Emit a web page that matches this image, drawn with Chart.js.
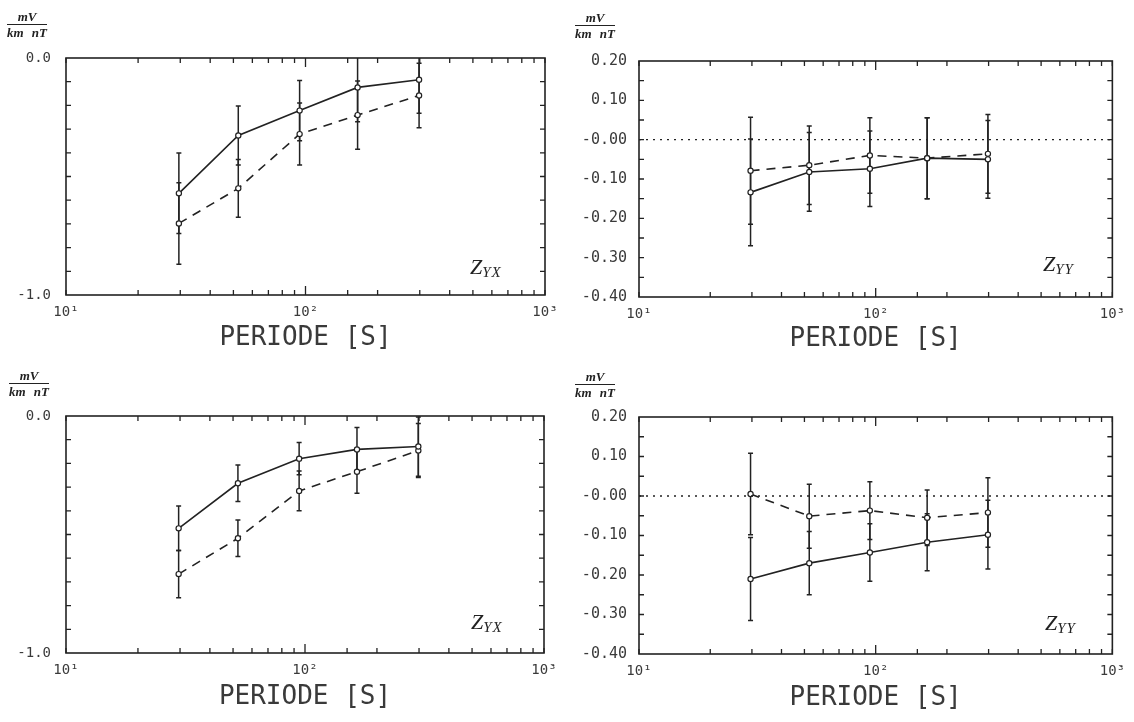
<!DOCTYPE html>
<html>
<head>
<meta charset="utf-8">
<script src="https://cdn.jsdelivr.net/npm/chart.js@4.4.0/dist/chart.umd.min.js"></script>
<style>
  body { margin: 0; background: #fff; width: 1134px; height: 722px; position: relative; overflow: hidden; }
  canvas { position: absolute; }
  .unit { position: absolute; font: italic bold 13px 'Liberation Serif', serif; color: #222; text-align: center; line-height: 12px; }
  .unit .num { display: block; border-bottom: 1.3px solid #222; padding: 0 2px 1px; }
  .unit .den { display: block; padding-top: 2px; word-spacing: 5px; }
  .zlab { position: absolute; font: italic 22px 'Liberation Serif', serif; line-height: 22px; color: #222; }
  .zlab sub { font-size: 15px; vertical-align: -3px; letter-spacing: 1px; }
</style>
</head>
<body>
<canvas id="tl" width="567" height="330" style="left:0;top:30px"></canvas>
<canvas id="tr" width="567" height="330" style="left:567px;top:30px"></canvas>
<canvas id="bl" width="567" height="334" style="left:0;top:388px"></canvas>
<canvas id="br" width="567" height="334" style="left:567px;top:388px"></canvas>

<div class="unit" style="left:7px;top:11px"><span class="num">mV</span><span class="den">km nT</span></div>
<div class="unit" style="left:575px;top:12px"><span class="num">mV</span><span class="den">km nT</span></div>
<div class="unit" style="left:9px;top:370px"><span class="num">mV</span><span class="den">km nT</span></div>
<div class="unit" style="left:575px;top:371px"><span class="num">mV</span><span class="den">km nT</span></div>

<div class="zlab" style="left:470px;top:256px">Z<sub>YX</sub></div>
<div class="zlab" style="left:1043px;top:253px">Z<sub>YY</sub></div>
<div class="zlab" style="left:471px;top:611px">Z<sub>YX</sub></div>
<div class="zlab" style="left:1045px;top:612px">Z<sub>YY</sub></div>

<script>
// periods [s] of the five estimates
const periods = [29.6, 52.4, 94.5, 165, 298];
const xTickLabels = { 10: '10¹', 100: '10²', 1000: '10³' };
const zeroLineX = [10, 1000];
const zeroLineY = [0, 0];

// top row
const zyxTopSolid = [-0.571, -0.327, -0.222, -0.124, -0.092];
const zyxTopSolidErr = [0.170, 0.124, 0.127, 0.145, 0.141];
const zyxTopDashed = [-0.698, -0.550, -0.321, -0.241, -0.158];
const zyxTopDashedErr = [0.172, 0.122, 0.131, 0.144, 0.136];

const zyyTopSolid = [-0.134, -0.082, -0.074, -0.047, -0.050];
const zyyTopSolidErr = [0.136, 0.100, 0.096, 0.103, 0.099];
const zyyTopDashed = [-0.079, -0.065, -0.040, -0.047, -0.036];
const zyyTopDashedErr = [0.136, 0.100, 0.096, 0.103, 0.100];

// bottom row
const zyxBotSolid = [-0.474, -0.284, -0.180, -0.141, -0.129];
const zyxBotSolidErr = [0.094, 0.077, 0.068, 0.092, 0.125];
const zyxBotDashed = [-0.667, -0.516, -0.316, -0.235, -0.146];
const zyxBotDashedErr = [0.100, 0.077, 0.084, 0.091, 0.114];

const zyyBotSolid = [-0.210, -0.170, -0.143, -0.117, -0.098];
const zyyBotSolidErr = [0.105, 0.080, 0.073, 0.072, 0.087];
const zyyBotDashed = [0.005, -0.051, -0.037, -0.055, -0.042];
const zyyBotDashedErr = [0.103, 0.081, 0.073, 0.070, 0.088];

const INK = '#222';
const LABEL = '#3a3a3a';
const MONO = "'DejaVu Sans Mono', monospace";

function pts(xs, ys) {
  return ys.map((v, i) => ({ x: xs[i], y: v }));
}

// frame, inward ticks and error bars
const framePlugin = {
  id: 'frame',
  beforeDatasetsDraw(chart) {
    const { ctx, chartArea: a, scales: { x, y } } = chart;
    ctx.save();
    ctx.beginPath();
    ctx.rect(a.left, a.top, a.right - a.left, a.bottom - a.top);
    ctx.clip();
    ctx.strokeStyle = INK;
    ctx.lineWidth = 1.5;
    chart.data.datasets.forEach(ds => {
      if (!ds.errorBars) return;
      ds.data.forEach((p, i) => {
        const px = x.getPixelForValue(p.x);
        const y1 = y.getPixelForValue(p.y + ds.errorBars[i]);
        const y2 = y.getPixelForValue(p.y - ds.errorBars[i]);
        ctx.beginPath();
        ctx.moveTo(px, y1); ctx.lineTo(px, y2);
        ctx.moveTo(px - 2.5, y1); ctx.lineTo(px + 2.5, y1);
        ctx.moveTo(px - 2.5, y2); ctx.lineTo(px + 2.5, y2);
        ctx.stroke();
      });
    });
    ctx.restore();
  },
  afterDraw(chart, args, opts) {
    const { ctx, chartArea: a, scales: { x, y } } = chart;
    ctx.save();
    ctx.strokeStyle = INK;
    ctx.lineWidth = 1.6;
    ctx.strokeRect(a.left, a.top, a.right - a.left, a.bottom - a.top);
    ctx.lineWidth = 1.3;
    ctx.beginPath();
    x.ticks.forEach(t => {
      const px = x.getPixelForValue(t.value);
      const len = Math.round(t.value) === 100 ? 9 : 5;
      ctx.moveTo(px, a.bottom); ctx.lineTo(px, a.bottom - len);
      ctx.moveTo(px, a.top); ctx.lineTo(px, a.top + len);
    });
    const n = Math.round((y.max - y.min) / opts.minorStep);
    for (let k = 1; k < n; k++) {
      const py = y.getPixelForValue(y.min + k * opts.minorStep);
      ctx.moveTo(a.left, py); ctx.lineTo(a.left + 5, py);
      ctx.moveTo(a.right, py); ctx.lineTo(a.right - 5, py);
    }
    ctx.stroke();
    ctx.restore();
  }
};

function makePanel(id, p) {
  const datasets = [];
  if (p.zeroLine) {
    datasets.push({
      data: pts(zeroLineX, zeroLineY),
      borderColor: INK, borderWidth: 1.3, borderDash: [2, 5],
      pointRadius: 0
    });
  }
  datasets.push({
    data: pts(periods, p.solid), errorBars: p.solidErr,
    borderColor: INK, borderWidth: 1.6, tension: 0,
    pointRadius: 2.6, pointBorderWidth: 1.2,
    pointBackgroundColor: '#fff', pointBorderColor: INK
  });
  datasets.push({
    data: pts(periods, p.dashed), errorBars: p.dashedErr,
    borderColor: INK, borderWidth: 1.6, borderDash: [9, 7], tension: 0,
    pointRadius: 2.6, pointBorderWidth: 1.2,
    pointBackgroundColor: '#fff', pointBorderColor: INK
  });

  new Chart(document.getElementById(id), {
    type: 'line',
    data: { datasets },
    options: {
      responsive: false,
      animation: false,
      layout: { padding: { top: p.padTop, right: p.padRight, left: 0, bottom: 0 } },
      plugins: {
        legend: { display: false },
        tooltip: { enabled: false },
        frame: { minorStep: p.minorStep }
      },
      scales: {
        x: {
          type: 'logarithmic', min: 10, max: 1000,
          grid: { display: false, drawTicks: false },
          border: { display: false },
          ticks: {
            autoSkip: false, maxRotation: 0, padding: 9, color: LABEL,
            font: { family: MONO, size: 14 },
            callback: v => xTickLabels[Math.round(v)] || ''
          },
          title: {
            display: true, text: 'PERIODE [S]', color: LABEL,
            font: { family: MONO, size: 26 },
            padding: { top: 0, bottom: p.titlePad }
          },
          afterFit: s => { s.height = p.xHeight; }
        },
        y: {
          min: p.yMin, max: p.yMax,
          grid: { display: false, drawTicks: false },
          border: { display: false },
          ticks: {
            stepSize: p.yStep, padding: p.yPad, color: LABEL,
            font: { family: MONO, size: p.yFont },
            callback: p.yFormat
          },
          afterFit: s => { s.width = p.yWidth; }
        }
      }
    },
    plugins: [framePlugin]
  });
}

const fmtOne = v => v.toFixed(1);
const fmtTwo = v => (Math.abs(v) < 1e-6 ? '-0.00' : v.toFixed(2));

makePanel('tl', {
  solid: zyxTopSolid, solidErr: zyxTopSolidErr, dashed: zyxTopDashed, dashedErr: zyxTopDashedErr,
  yMin: -1, yMax: 0, yStep: 1, minorStep: 0.1, yFormat: fmtOne, yFont: 14, yPad: 15,
  yWidth: 66, xHeight: 65, padTop: 28, padRight: 22, titlePad: 6
});
makePanel('tr', {
  solid: zyyTopSolid, solidErr: zyyTopSolidErr, dashed: zyyTopDashed, dashedErr: zyyTopDashedErr,
  zeroLine: true,
  yMin: -0.4, yMax: 0.2, yStep: 0.1, minorStep: 0.05, yFormat: fmtTwo, yFont: 15, yPad: 12,
  yWidth: 72, xHeight: 63, padTop: 31, padRight: 21, titlePad: 5
});
makePanel('bl', {
  solid: zyxBotSolid, solidErr: zyxBotSolidErr, dashed: zyxBotDashed, dashedErr: zyxBotDashedErr,
  yMin: -1, yMax: 0, yStep: 1, minorStep: 0.1, yFormat: fmtOne, yFont: 14, yPad: 15,
  yWidth: 66, xHeight: 69, padTop: 28, padRight: 23, titlePad: 9
});
makePanel('br', {
  solid: zyyBotSolid, solidErr: zyyBotSolidErr, dashed: zyyBotDashed, dashedErr: zyyBotDashedErr,
  zeroLine: true,
  yMin: -0.4, yMax: 0.2, yStep: 0.1, minorStep: 0.05, yFormat: fmtTwo, yFont: 15, yPad: 12,
  yWidth: 72, xHeight: 68, padTop: 29, padRight: 18, titlePad: 8
});
</script>
</body>
</html>
